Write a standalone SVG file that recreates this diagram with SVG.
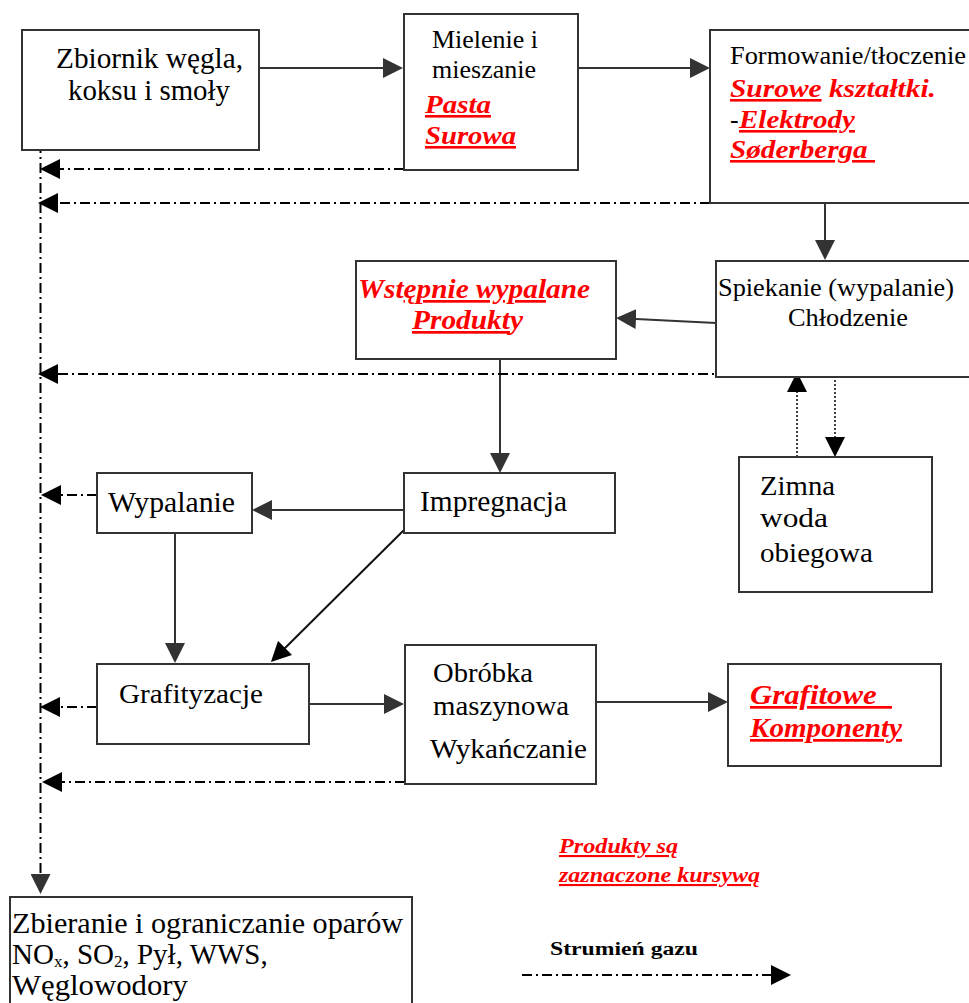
<svg xmlns="http://www.w3.org/2000/svg" width="969" height="1003" viewBox="0 0 969 1003">
<style>
.box{fill:#fff;stroke:#333;stroke-width:2}
.t{font-family:"Liberation Serif","Times New Roman",serif;fill:#000}
.r{font-family:"Liberation Serif","Times New Roman",serif;fill:#f00;font-weight:bold;font-style:italic}
.u{text-decoration:underline}
.flow{stroke:#333;stroke-width:2;fill:none}
.gas{stroke:#000;stroke-width:2;fill:none;stroke-dasharray:10 4 2 4}
.dot{stroke:#000;stroke-width:1.5;fill:none;stroke-dasharray:2 2}
</style>
<defs>
<marker id="ah" markerUnits="userSpaceOnUse" markerWidth="20" markerHeight="20" refX="10" refY="10" orient="auto"><path d="M0,0 L20,10 L0,20 z" fill="#333"/></marker>
<marker id="ak" markerUnits="userSpaceOnUse" markerWidth="20" markerHeight="20" refX="10" refY="10" orient="auto"><path d="M0,0 L20,10 L0,20 z" fill="#000"/></marker>
</defs>
<g id="connectors">
<line class="flow" x1="249" y1="68" x2="393" y2="68" marker-end="url(#ah)"/>
<line class="flow" x1="578" y1="68" x2="700" y2="68" marker-end="url(#ah)"/>
<line class="flow" x1="825" y1="203" x2="825" y2="250" marker-end="url(#ah)"/>
<line class="flow" x1="716" y1="323" x2="626" y2="318.5" marker-end="url(#ah)"/>
<line class="flow" x1="500" y1="359" x2="500" y2="463" marker-end="url(#ah)"/>
<line class="flow" x1="404" y1="510" x2="262" y2="510" marker-end="url(#ah)"/>
<line class="flow" x1="175" y1="530" x2="175" y2="653" marker-end="url(#ah)"/>
<line x1="404" y1="530" x2="278" y2="655" stroke="#111" stroke-width="2" marker-end="url(#ak)"/>
<line class="flow" x1="309" y1="704" x2="394" y2="704" marker-end="url(#ah)"/>
<line class="flow" x1="596" y1="702" x2="718" y2="702" marker-end="url(#ah)"/>
<line class="dot" x1="797" y1="457" x2="797" y2="382" marker-end="url(#ak)"/>
<line class="dot" x1="835" y1="380" x2="835" y2="447" marker-end="url(#ak)"/>
<line class="gas" x1="404" y1="169" x2="50" y2="169" marker-end="url(#ak)"/>
<line class="gas" x1="710" y1="203" x2="48" y2="203" marker-end="url(#ak)"/>
<line class="gas" x1="748" y1="374" x2="48" y2="374" marker-end="url(#ak)"/>
<line class="gas" x1="97" y1="495" x2="51" y2="495" marker-end="url(#ak)"/>
<line class="gas" x1="97" y1="707" x2="50" y2="707" marker-end="url(#ak)"/>
<line class="gas" x1="405" y1="782" x2="52" y2="782" marker-end="url(#ak)"/>
<line class="gas" x1="40.5" y1="143" x2="40.5" y2="884" marker-end="url(#ah)"/>
<line class="gas" x1="522" y1="975" x2="781" y2="975" marker-end="url(#ak)"/>
</g>
<g id="zbiornik">
<rect class="box" x="22" y="30" width="237" height="120"/>
<text class="t" font-size="30" x="56" y="68" textLength="187" lengthAdjust="spacingAndGlyphs">Zbiornik węgla,</text>
<text class="t" font-size="30" x="68" y="100" textLength="162" lengthAdjust="spacingAndGlyphs">koksu i smoły</text>
</g>
<g id="mielenie">
<rect class="box" x="404" y="14" width="174" height="156"/>
<text class="t" font-size="25" x="432" y="48" textLength="106" lengthAdjust="spacingAndGlyphs">Mielenie i</text>
<text class="t" font-size="25" x="432" y="78" textLength="104" lengthAdjust="spacingAndGlyphs">mieszanie</text>
<text class="r u" font-size="26" x="425" y="113" textLength="66" lengthAdjust="spacingAndGlyphs">Pasta</text>
<text class="r u" font-size="26" x="425" y="144" textLength="91" lengthAdjust="spacingAndGlyphs">Surowa</text>
</g>
<g id="formowanie">
<rect class="box" x="710" y="30" width="280" height="173"/>
<text class="t" font-size="25" x="730" y="64" textLength="236" lengthAdjust="spacingAndGlyphs">Formowanie/tłoczenie</text>
<text class="r" font-size="26" x="730" y="97" textLength="206" lengthAdjust="spacingAndGlyphs"><tspan class="u">Surowe</tspan> kształtki.</text>
<text class="t" font-size="26" x="730" y="128">-</text>
<text class="r u" font-size="26" x="739" y="128" textLength="116" lengthAdjust="spacingAndGlyphs">Elektrody</text>
<text class="r u" font-size="26" x="730" y="158" textLength="145" lengthAdjust="spacingAndGlyphs" xml:space="preserve">Søderberga </text>
</g>
<g id="spiekanie">
<rect class="box" x="716" y="261" width="280" height="116"/>
<text class="t" font-size="25" x="718" y="296" textLength="236" lengthAdjust="spacingAndGlyphs">Spiekanie (wypalanie)</text>
<text class="t" font-size="25" x="788" y="326" textLength="120" lengthAdjust="spacingAndGlyphs">Chłodzenie</text>
</g>
<g id="wstepnie">
<rect class="box" x="356" y="261" width="260" height="98"/>
<text class="r" font-size="27" x="358" y="298" textLength="232" lengthAdjust="spacingAndGlyphs">Wst<tspan class="u">ępnie wypal</tspan>ane</text>
<text class="r" font-size="27" x="412" y="329" textLength="111" lengthAdjust="spacingAndGlyphs"><tspan class="u">Produkt</tspan>y</text>
</g>
<g id="impregnacja">
<rect class="box" x="404" y="473" width="211" height="60"/>
<text class="t" font-size="29" x="420" y="511" textLength="147" lengthAdjust="spacingAndGlyphs">Impregnacja</text>
</g>
<g id="wypalanie">
<rect class="box" x="97" y="473" width="155" height="60"/>
<text class="t" font-size="29" x="108" y="512" textLength="127" lengthAdjust="spacingAndGlyphs">Wypalanie</text>
</g>
<g id="zimna">
<rect class="box" x="739" y="457" width="193" height="135"/>
<text class="t" font-size="27" x="760" y="495" textLength="75" lengthAdjust="spacingAndGlyphs">Zimna</text>
<text class="t" font-size="27" x="760" y="527" textLength="68" lengthAdjust="spacingAndGlyphs">woda</text>
<text class="t" font-size="27" x="760" y="562" textLength="113" lengthAdjust="spacingAndGlyphs">obiegowa</text>
</g>
<g id="grafityzacje">
<rect class="box" x="97" y="664" width="212" height="80"/>
<text class="t" font-size="28" x="119" y="703" textLength="144" lengthAdjust="spacingAndGlyphs">Grafityzacje</text>
</g>
<g id="obrobka">
<rect class="box" x="405" y="645" width="191" height="139"/>
<text class="t" font-size="28" x="433" y="682" textLength="100" lengthAdjust="spacingAndGlyphs">Obróbka</text>
<text class="t" font-size="28" x="433" y="715" textLength="136" lengthAdjust="spacingAndGlyphs">maszynowa</text>
<text class="t" font-size="28" x="430" y="758" textLength="157" lengthAdjust="spacingAndGlyphs">Wykańczanie</text>
</g>
<g id="grafitowe">
<rect class="box" x="728" y="664" width="213" height="102"/>
<text class="r u" font-size="27" x="750" y="704" textLength="142" lengthAdjust="spacingAndGlyphs" xml:space="preserve">Grafitowe  </text>
<text class="r u" font-size="27" x="750" y="737" textLength="152" lengthAdjust="spacingAndGlyphs">Komponenty</text>
</g>
<g id="zbieranie">
<rect class="box" x="10" y="897" width="402" height="120"/>
<text class="t" font-size="29" x="12" y="933" textLength="391" lengthAdjust="spacingAndGlyphs">Zbieranie i ograniczanie oparów</text>
<text class="t" font-size="29" x="12" y="964">NO<tspan font-size="17" dy="3">x</tspan><tspan dy="-3">, SO</tspan><tspan font-size="17" dy="3">2</tspan><tspan dy="-3">, Pył, WWS,</tspan></text>
<text class="t" font-size="29" x="12" y="995" textLength="176" lengthAdjust="spacingAndGlyphs">Węglowodory</text>
</g>
<g id="legend">
<text class="r u" font-size="21" x="559" y="853" textLength="119" lengthAdjust="spacingAndGlyphs">Produkty są</text>
<text class="r u" font-size="21" x="559" y="882" textLength="201" lengthAdjust="spacingAndGlyphs">zaznaczone kursywą</text>
<text class="t" font-size="18" font-weight="bold" x="550" y="955" textLength="148" lengthAdjust="spacingAndGlyphs">Strumień gazu</text>
</g>
</svg>
